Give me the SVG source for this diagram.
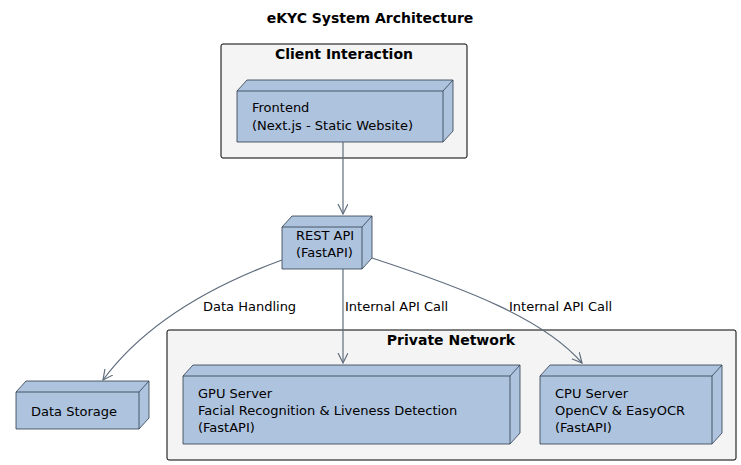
<svg xmlns="http://www.w3.org/2000/svg" width="741" height="465" viewBox="0 0 741 465">
<style>
text{font-family:"DejaVu Sans",sans-serif;font-size:13px;fill:#000}
.t{font-weight:bold;font-size:14px}
.cl{fill:#f4f4f4;stroke:#000;stroke-width:1}
.n{fill:#aec3de;stroke:#2b3a4a;stroke-width:0.8;stroke-linejoin:round}
.l{fill:none;stroke:#2b3a4a;stroke-width:0.8}
.e{fill:none;stroke:#5f6d7e;stroke-width:1.2}
</style>
<defs><marker id="a" markerWidth="12" markerHeight="12" refX="10" refY="5" orient="auto" markerUnits="userSpaceOnUse"><path d="M0,0 L10,5 L0,10" fill="none" stroke="#5f6d7e" stroke-width="1.2"/></marker></defs>
<text x="370" y="23" text-anchor="middle" class="t">eKYC System Architecture</text>
<g id="client"><rect class="cl" x="221" y="44" width="246" height="114" rx="2"/><text class="t" x="344" y="59" text-anchor="middle">Client Interaction</text></g>
<g id="private"><rect class="cl" x="167" y="330" width="569" height="130" rx="2"/><text class="t" x="451" y="345" text-anchor="middle">Private Network</text></g>
<g id="frontend"><path class="n" d="M237,91 L247,80 L453,80 L453,131 L443,142 L237,142 Z"/><path class="l" d="M237,91 L443,91 L453,80 M443,91 L443,142"/><text x="252" y="112">Frontend</text><text x="252" y="130">(Next.js - Static Website)</text></g>
<g id="rest"><path class="n" d="M282,227 L292,216 L372,216 L372,258 L362,269 L282,269 Z"/><path class="l" d="M282,227 L362,227 L372,216 M362,227 L362,269"/><text x="296" y="240">REST API</text><text x="296" y="257">(FastAPI)</text></g>
<g id="storage"><path class="n" d="M16,392 L26,381 L149,381 L149,418 L139,429 L16,429 Z"/><path class="l" d="M16,392 L139,392 L149,381 M139,392 L139,429"/><text x="31" y="416">Data Storage</text></g>
<g id="gpu"><path class="n" d="M183,376 L193,365 L520,365 L520,433 L510,444 L183,444 Z"/><path class="l" d="M183,376 L510,376 L520,365 M510,376 L510,444"/><text x="198" y="398">GPU Server</text><text x="198" y="415">Facial Recognition &amp; Liveness Detection</text><text x="198" y="432">(FastAPI)</text></g>
<g id="cpu"><path class="n" d="M540,376 L550,365 L722,365 L722,433 L712,444 L540,444 Z"/><path class="l" d="M540,376 L712,376 L722,365 M712,376 L712,444"/><text x="555" y="398">CPU Server</text><text x="555" y="415">OpenCV &amp; EasyOCR</text><text x="555" y="432">(FastAPI)</text></g>
<g id="edges">
<path class="e" marker-end="url(#a)" d="M343,142 L343,214"/>
<path class="e" marker-end="url(#a)" d="M282,260 C200,290 140,330 103,380"/>
<path class="e" marker-end="url(#a)" d="M343,269 L343,363"/>
<path class="e" marker-end="url(#a)" d="M372,258 C470,290 545,320 582,363"/>
<text x="203" y="311">Data Handling</text>
<text x="345" y="311">Internal API Call</text>
<text x="509" y="311">Internal API Call</text>
</g>
</svg>
